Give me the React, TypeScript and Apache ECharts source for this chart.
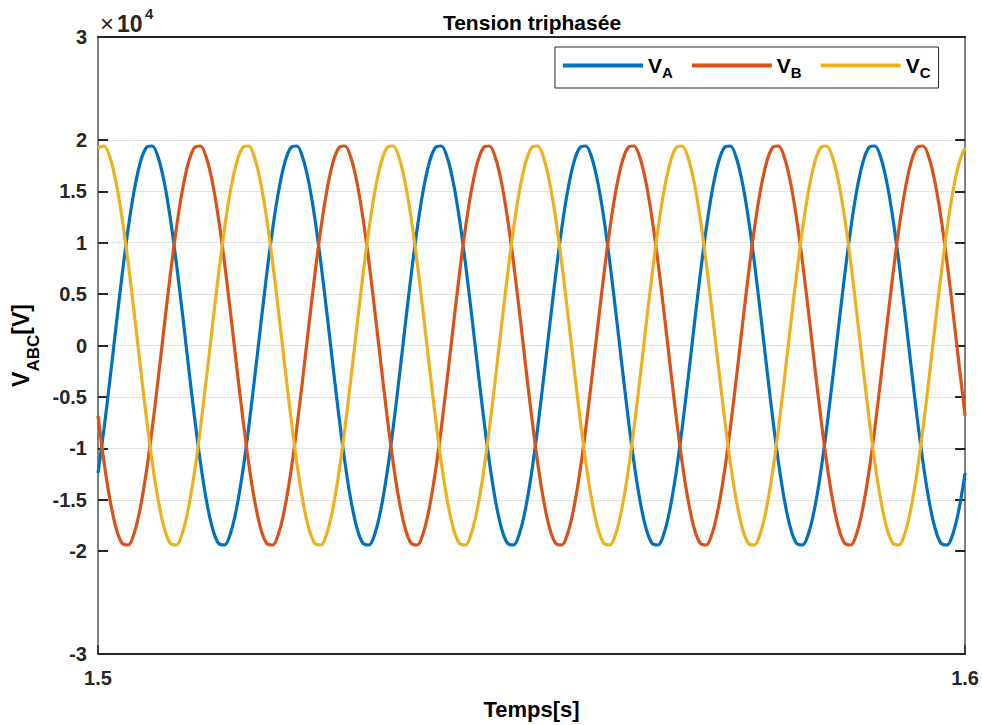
import React, { useEffect, useRef } from "react";
import * as echarts from "echarts";

// Sampling of the three phase voltages: one sample every 1/1440 s starting at t = 1.5 s
const T_START = 1.5;
const T_STEP = 1 / 1440;

// Phase A voltage [V]
const VA = [
  -12400, -8090, -3220, 1870, 6830, 11330, 15050, 17750, 19230, 19400, 18270, 15870, 12400, 8090, 3220, -1870, -6830, -11330, -15050, -17750, -19230, -19400, -18270, -15870,
  -12400, -8090, -3220, 1870, 6830, 11330, 15050, 17750, 19230, 19400, 18270, 15870, 12400, 8090, 3220, -1870, -6830, -11330, -15050, -17750, -19230, -19400, -18270, -15870,
  -12400, -8090, -3220, 1870, 6830, 11330, 15050, 17750, 19230, 19400, 18270, 15870, 12400, 8090, 3220, -1870, -6830, -11330, -15050, -17750, -19230, -19400, -18270, -15870,
  -12400, -8090, -3220, 1870, 6830, 11330, 15050, 17750, 19230, 19400, 18270, 15870, 12400, 8090, 3220, -1870, -6830, -11330, -15050, -17750, -19230, -19400, -18270, -15870,
  -12400, -8090, -3220, 1870, 6830, 11330, 15050, 17750, 19230, 19400, 18270, 15870, 12400, 8090, 3220, -1870, -6830, -11330, -15050, -17750, -19230, -19400, -18270, -15870,
  -12400, -8090, -3220, 1870, 6830, 11330, 15050, 17750, 19230, 19400, 18270, 15870, 12400, 8090, 3220, -1870, -6830, -11330, -15050, -17750, -19230, -19400, -18270, -15870,
  -12400,
];

// Phase B voltage [V]
const VB = [
  -6830, -11330, -15050, -17750, -19230, -19400, -18270, -15870, -12400, -8090, -3220, 1870, 6830, 11330, 15050, 17750, 19230, 19400, 18270, 15870, 12400, 8090, 3220, -1870,
  -6830, -11330, -15050, -17750, -19230, -19400, -18270, -15870, -12400, -8090, -3220, 1870, 6830, 11330, 15050, 17750, 19230, 19400, 18270, 15870, 12400, 8090, 3220, -1870,
  -6830, -11330, -15050, -17750, -19230, -19400, -18270, -15870, -12400, -8090, -3220, 1870, 6830, 11330, 15050, 17750, 19230, 19400, 18270, 15870, 12400, 8090, 3220, -1870,
  -6830, -11330, -15050, -17750, -19230, -19400, -18270, -15870, -12400, -8090, -3220, 1870, 6830, 11330, 15050, 17750, 19230, 19400, 18270, 15870, 12400, 8090, 3220, -1870,
  -6830, -11330, -15050, -17750, -19230, -19400, -18270, -15870, -12400, -8090, -3220, 1870, 6830, 11330, 15050, 17750, 19230, 19400, 18270, 15870, 12400, 8090, 3220, -1870,
  -6830, -11330, -15050, -17750, -19230, -19400, -18270, -15870, -12400, -8090, -3220, 1870, 6830, 11330, 15050, 17750, 19230, 19400, 18270, 15870, 12400, 8090, 3220, -1870,
  -6830,
];

// Phase C voltage [V]
const VC = [
  19230, 19400, 18270, 15870, 12400, 8090, 3220, -1870, -6830, -11330, -15050, -17750, -19230, -19400, -18270, -15870, -12400, -8090, -3220, 1870, 6830, 11330, 15050, 17750,
  19230, 19400, 18270, 15870, 12400, 8090, 3220, -1870, -6830, -11330, -15050, -17750, -19230, -19400, -18270, -15870, -12400, -8090, -3220, 1870, 6830, 11330, 15050, 17750,
  19230, 19400, 18270, 15870, 12400, 8090, 3220, -1870, -6830, -11330, -15050, -17750, -19230, -19400, -18270, -15870, -12400, -8090, -3220, 1870, 6830, 11330, 15050, 17750,
  19230, 19400, 18270, 15870, 12400, 8090, 3220, -1870, -6830, -11330, -15050, -17750, -19230, -19400, -18270, -15870, -12400, -8090, -3220, 1870, 6830, 11330, 15050, 17750,
  19230, 19400, 18270, 15870, 12400, 8090, 3220, -1870, -6830, -11330, -15050, -17750, -19230, -19400, -18270, -15870, -12400, -8090, -3220, 1870, 6830, 11330, 15050, 17750,
  19230, 19400, 18270, 15870, 12400, 8090, 3220, -1870, -6830, -11330, -15050, -17750, -19230, -19400, -18270, -15870, -12400, -8090, -3220, 1870, 6830, 11330, 15050, 17750,
  19230,
];

const SERIES_NAMES = ["VA", "VB", "VC"];
const SERIES_COLORS = ["#0072BD", "#D95319", "#EDB120"];

// Y ticks (volts); 2.5e4 and -2.5e4 are not marked
const Y_TICKS = [-30000, -20000, -15000, -10000, -5000, 0, 5000, 10000, 15000, 20000, 30000];
const X_TICKS = [1.5, 1.6];

const FONT = "'Liberation Sans', Arial, Helvetica, sans-serif";
const INK = "#262626";

function toPairs(values: number[]): [number, number][] {
  return values.map((v, i) => [T_START + i * T_STEP, v]);
}

export default function App() {
  const ref = useRef<HTMLDivElement>(null);

  useEffect(() => {
    if (!ref.current) return;
    const chart = echarts.init(ref.current, undefined, { renderer: "svg" });

    const allSeries = [VA, VB, VC];

    // gridlines at -2..2 (x1e4); the ±2.5 and ±3 lines stay hidden
    const gridColors: string[] = [];
    for (let v = -30000; v <= 30000; v += 5000) {
      gridColors.push(Math.abs(v) > 20000 ? "rgba(0,0,0,0)" : "#e3e3e3");
    }

    const yLabel = (v: number) => {
      if (!Y_TICKS.includes(Math.round(v))) return "";
      return String(Math.round((v / 1e4) * 10) / 10);
    };

    // small helper for the pieces of the "×10^4" exponent label
    const expPart = (text: string, left: number, top: number, fontSize: number, fontWeight: string) => ({
      text,
      left,
      top,
      padding: 0,
      textStyle: { fontFamily: FONT, fontSize, fontWeight, color: INK },
    });

    chart.setOption({
      animation: false,
      backgroundColor: "#ffffff",
      title: [
        {
          text: "Tension triphasée",
          left: 527,
          top: 7,
          textAlign: "center",
          textStyle: { fontFamily: FONT, fontSize: 21, fontWeight: "bold", color: "#000" },
        },
        expPart("×", 100, 11, 24, "normal"),
        expPart("10", 117, 12, 23, "bold"),
        expPart("4", 145, 6, 15, "bold"),
      ],
      legend: {
        data: SERIES_NAMES,
        left: 555,
        top: 47,
        orient: "horizontal",
        icon: "rect",
        itemWidth: 80,
        itemHeight: 4,
        itemGap: 19,
        padding: [8, 8, 8, 8],
        backgroundColor: "#ffffff",
        borderColor: INK,
        borderWidth: 1,
        formatter: (name: string) => `{v|V}{s|${name.slice(1)}}`,
        textStyle: {
          fontFamily: FONT,
          color: "#000",
          rich: {
            v: { fontFamily: FONT, fontSize: 21, fontWeight: "bold", color: "#000", lineHeight: 29, verticalAlign: "middle" },
            s: { fontFamily: FONT, fontSize: 15, fontWeight: "bold", color: "#000", lineHeight: 29, verticalAlign: "bottom" },
          },
        },
      },
      grid: { left: 98, right: 16, top: 37, bottom: 67, containLabel: false },
      xAxis: [
        {
          type: "value",
          min: 1.5,
          max: 1.6,
          interval: 0.1,
          position: "bottom",
          name: "Temps[s]",
          nameLocation: "middle",
          nameGap: 44,
          nameTextStyle: { fontFamily: FONT, fontSize: 22, fontWeight: "bold", color: "#000" },
          axisLine: { show: true, onZero: false, lineStyle: { color: INK, width: 2 } },
          axisTick: { show: true, inside: true, length: 9, lineStyle: { color: INK, width: 1.5 }, customValues: X_TICKS },
          axisLabel: {
            margin: 14,
            fontFamily: FONT,
            fontSize: 20,
            fontWeight: "bold",
            color: INK,
            formatter: (v: number) => v.toFixed(1),
            customValues: X_TICKS,
          },
          splitLine: { show: false },
        },
        {
          type: "value",
          min: 1.5,
          max: 1.6,
          interval: 0.1,
          position: "top",
          axisLine: { show: true, onZero: false, lineStyle: { color: INK, width: 2 } },
          axisTick: { show: false },
          axisLabel: { show: false },
          splitLine: { show: false },
        },
      ],
      yAxis: [
        {
          type: "value",
          min: -30000,
          max: 30000,
          interval: 5000,
          position: "left",
          name: "{v|V}{s|ABC}{v|[V]}",
          nameLocation: "middle",
          nameGap: 56,
          nameRotate: 90,
          nameTextStyle: {
            fontFamily: FONT,
            color: "#000",
            rich: {
              v: { fontFamily: FONT, fontSize: 23, fontWeight: "bold", color: "#000", lineHeight: 42, verticalAlign: "middle" },
              s: { fontFamily: FONT, fontSize: 17, fontWeight: "bold", color: "#000", lineHeight: 42, verticalAlign: "bottom" },
            },
          },
          axisLine: { show: true, onZero: false, lineStyle: { color: "#555", width: 1.5 } },
          axisTick: { show: true, inside: true, length: 10, lineStyle: { color: INK, width: 2 }, customValues: Y_TICKS },
          axisLabel: {
            margin: 11,
            fontFamily: FONT,
            fontSize: 20,
            fontWeight: "bold",
            color: INK,
            formatter: yLabel,
            customValues: Y_TICKS,
          },
          splitLine: { show: true, lineStyle: { color: gridColors, width: 1 } },
        },
        {
          type: "value",
          min: -30000,
          max: 30000,
          interval: 5000,
          position: "right",
          axisLine: { show: true, onZero: false, lineStyle: { color: "#555", width: 1.5 } },
          axisTick: { show: true, inside: true, length: 10, lineStyle: { color: INK, width: 2 }, customValues: Y_TICKS },
          axisLabel: { show: false },
          splitLine: { show: false },
        },
      ],
      series: allSeries.map((vals, i) => ({
        name: SERIES_NAMES[i],
        type: "line",
        xAxisIndex: 0,
        yAxisIndex: 0,
        data: toPairs(vals),
        showSymbol: false,
        symbol: "none",
        smooth: 0.35,
        lineStyle: { color: SERIES_COLORS[i], width: 3.2 },
        itemStyle: { color: SERIES_COLORS[i] },
        emphasis: { disabled: true },
      })),
    });

    return () => chart.dispose();
  }, []);

  return <div ref={ref} style={{ width: 982, height: 725, position: "absolute", left: 0, top: 0 }} />;
}
